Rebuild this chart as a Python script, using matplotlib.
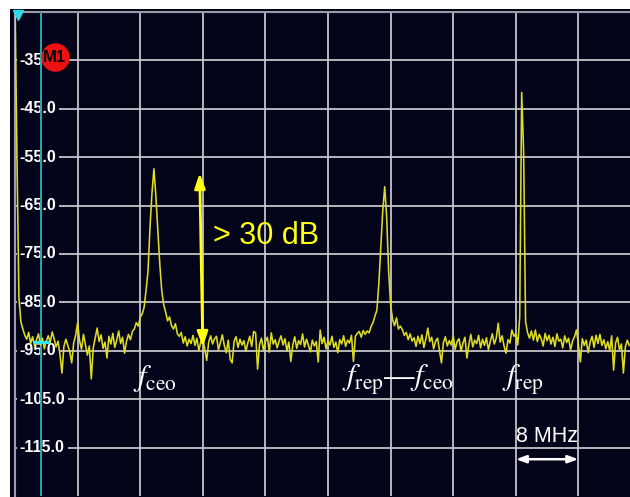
import numpy as np
import matplotlib.pyplot as plt
from matplotlib.patches import Rectangle

plt.rcParams['mathtext.fontset'] = 'stix'

# spectrum trace, one bin every 0.25 MHz starting at DC (values in dBm)
step_mhz = 0.25
level_dbm = [
    -22, -55, -84, -89, -90.5, -91.8, -92.6, -91.2, -93.5, -92.1, -94.0, -92.7, -91.5, -93.8, -92.4, -94.6, -93.0, -91.9, -93.3, -91.1,
    -92.5, -94.2, -93.0, -95.8, -99.6, -94.1, -92.6, -93.9, -95.2, -97.5, -93.4, -91.8, -89.2, -92.9, -94.7, -91.6, -93.8, -95.9, -94.0, -100.8,
    -94.4, -92.3, -90.3, -93.1, -91.7, -94.5, -93.2, -96.5, -92.0, -93.6, -91.4, -94.3, -92.8, -90.9, -93.5, -92.2, -95.5, -93.0, -91.6, -92.7,
    -91.0, -90.5, -89.2, -89.9, -88.1, -87.4, -86.0, -82.5, -78.5, -69.5, -62.5, -57.4, -63.0, -70.0, -77.0, -82.5, -85.5, -87.0, -88.8, -88.0,
    -89.8, -90.5, -89.4, -91.5, -92.0, -91.2, -93.4, -92.1, -94.0, -92.6, -93.5, -91.8, -93.9, -92.4, -95.0, -93.1, -92.3, -94.6, -97.0, -93.2,
    -91.9, -93.6, -92.5, -92.0, -94.8, -93.3, -91.7, -93.9, -95.4, -92.8, -96.8, -97.5, -93.0, -92.1, -94.3, -92.6, -93.8, -92.9, -95.1, -93.4,
    -92.0, -94.1, -91.0, -91.3, -98.8, -93.7, -92.4, -94.9, -93.1, -92.2, -95.3, -91.3, -93.6, -92.7, -94.4, -93.0, -91.9, -93.8, -92.5, -95.0,
    -93.2, -97.2, -93.8, -92.1, -94.5, -92.9, -93.7, -91.5, -94.2, -92.6, -93.9, -95.2, -92.8, -94.0, -93.1, -97.3, -90.7, -93.5, -92.2, -94.6,
    -92.9, -93.8, -92.0, -94.3, -93.2, -95.4, -92.7, -93.6, -91.9, -94.1, -92.8, -93.4, -91.8, -97.2, -92.0, -91.4, -91.0, -92.2, -90.8, -91.6,
    -90.9, -91.3, -90.0, -89.2, -87.8, -86.6, -81.0, -73.5, -66.0, -61.1, -67.5, -78.5, -85.5, -88.5, -89.8, -88.2, -90.5, -89.9, -90.6, -91.8,
    -91.2, -92.7, -91.5, -93.0, -92.3, -94.1, -92.0, -93.5, -91.7, -94.3, -92.6, -90.3, -93.1, -92.2, -94.6, -93.0, -92.4, -95.0, -97.5, -93.3,
    -92.1, -94.0, -92.9, -93.8, -91.9, -94.7, -93.1, -92.5, -95.1, -93.4, -92.2, -96.5, -93.7, -91.6, -94.2, -92.8, -93.5, -91.8, -94.4, -92.6,
    -93.9, -92.3, -94.8, -93.0, -91.5, -93.6, -92.4, -89.3, -93.2, -91.9, -94.0, -95.5, -92.7, -93.4, -90.7, -92.0, -91.5, -93.8, -88.0, -41.6,
    -54.0, -89.0, -91.2, -92.4, -90.9, -92.8, -90.7, -93.1, -91.6, -92.5, -94.0, -91.4, -92.9, -91.8, -93.6, -92.2, -94.1, -91.5, -93.0, -92.6,
    -94.4, -91.9, -93.3, -92.4, -94.8, -93.0, -92.1, -90.7, -93.7, -97.3, -92.5, -93.9, -92.8, -95.4, -93.2, -92.0, -94.3, -91.8, -93.5, -91.6,
    -93.9, -92.7, -94.6, -93.1, -95.0, -91.9, -99.0, -93.4, -92.2, -94.8, -93.6, -99.6, -94.2, -92.8, -93.9,
]
freq_mhz = np.arange(len(level_dbm)) * step_mhz

ref_levels = [-35, -45, -55, -65, -75, -85, -95, -105, -115]
ref_labels = ['-35.0', '-45.0', '-55.0', '-65.0', '-75.0', '-85.0', '-95.0', '-105.0', '-115.0']
mhz_per_div = 8

# marker / annotation readings
m1_freq, m1_level = 5.1, -34.3
cursor_freq = 3.32
cursor_level = -93.2
gap_top, gap_bottom = -58.3, -94.2
scale_from, scale_to = 64, 72

bg = '#03031a'
grid_col = '#c8c8cc'
trace_col = '#dcdc22'

fig = plt.figure(figsize=(6.3, 4.97), dpi=100)
fig.patch.set_facecolor('white')
# dark screen area (white margin on top and left)
fig.patches.append(Rectangle((10 / 630, 0), 620 / 630, 488 / 497,
                             transform=fig.transFigure, facecolor=bg,
                             edgecolor='none', zorder=-10))

ax = fig.add_axes([15 / 630, 1 / 497, 626 / 630, 484 / 497])
ax.set_facecolor(bg)
ax.set_xlim(0, 10 * mhz_per_div)
ax.set_ylim(-125, -25)

ax.set_xticks(np.arange(0, 10 * mhz_per_div + 1, mhz_per_div))
ax.set_yticks(ref_levels)
ax.tick_params(length=0, labelbottom=False, labelleft=False)
ax.grid(True, color=grid_col, lw=1.4, alpha=0.9)
ax.set_axisbelow(True)
for side in ['right', 'bottom']:
    ax.spines[side].set_visible(False)
for side in ['left', 'top']:
    ax.spines[side].set_color('#9c9ca4')
    ax.spines[side].set_linewidth(1.5)

# reference level labels inside the screen
for lvl, lab in zip(ref_levels, ref_labels):
    ax.text(0.62, lvl, lab, color='white', fontsize=11.5, fontweight='bold',
            family='Liberation Sans', va='center', ha='left',
            zorder=2,
            bbox=dict(boxstyle='square,pad=0.18', fc=bg, ec='none'))

# trace
ax.plot(freq_mhz, level_dbm, color=trace_col, lw=1.15, zorder=4)

# cursor and markers
ax.axvline(cursor_freq, color='#2aa8b4', lw=1.4, zorder=3)
ax.plot([cursor_freq - 0.8, cursor_freq + 0.85], [cursor_level, cursor_level],
        color='#30e8ee', lw=2.2, zorder=5)
ax.plot(0.33, -25.7, marker='v', color='#30d8e8', markersize=7, zorder=6, clip_on=False)
ax.plot(m1_freq, m1_level, marker='o', color='#ee1111', markersize=19.5, zorder=6)
ax.text(m1_freq, m1_level, 'M1', color='black', fontsize=12, fontweight='bold',
        family='Liberation Sans', ha='center', va='center', zorder=7)

# > 30 dB span arrow
ax.annotate('', xy=(23.6, gap_top), xytext=(24.0, gap_bottom),
            arrowprops=dict(arrowstyle='<|-|>,head_length=0.9,head_width=0.32',
                            color='#ffff10', lw=2, shrinkA=0, shrinkB=0), zorder=8)
ax.text(25.3, -71.3, '> 30 dB', color='#ffff10', fontsize=22,
        family='Liberation Sans', va='center', ha='left', zorder=8)

# peak labels
lab_kw = dict(color='white', fontsize=22, va='baseline', ha='left', zorder=8,
              family='STIXGeneral')
ax.text(15.1, -102.2, r'$f_{\mathrm{ceo}}$', **lab_kw)
ax.text(41.8, -102.2, r'$f_{\mathrm{rep}}$—$f_{\mathrm{ceo}}$', **lab_kw)
ax.text(62.2, -102.2, r'$f_{\mathrm{rep}}$', **lab_kw)

# scale bar
ax.annotate('', xy=(scale_from, -117.4), xytext=(scale_to, -117.4),
            arrowprops=dict(arrowstyle='<|-|>,head_length=0.6,head_width=0.22',
                            color='white', lw=1.8, shrinkA=0, shrinkB=0), zorder=8)
ax.text((scale_from + scale_to) / 2, -112.8, '8 MHz', color='white', fontsize=15.5,
        family='Liberation Sans', ha='center', va='center', zorder=8)

fig.savefig('out.png', dpi=100, facecolor=fig.get_facecolor())
